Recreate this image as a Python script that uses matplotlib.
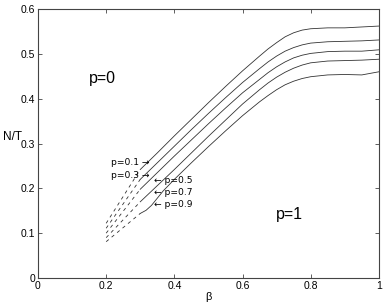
import matplotlib
matplotlib.use('Agg')
import matplotlib.pyplot as plt

plt.rcParams['font.family'] = ['Liberation Sans', 'DejaVu Sans']

# solid part, beta from 0.3 to 1
beta = [0.3, 0.35, 0.4, 0.45, 0.5, 0.55, 0.6, 0.65, 0.675, 0.7, 0.725, 0.75, 0.775, 0.8, 0.85, 0.9, 0.95, 1.0]
p01 = [0.242, 0.279, 0.317, 0.354, 0.391, 0.427, 0.462, 0.495, 0.511, 0.525, 0.538, 0.547, 0.553, 0.556, 0.558, 0.558, 0.560, 0.562]
p03 = [0.220, 0.257, 0.294, 0.331, 0.367, 0.402, 0.436, 0.467, 0.482, 0.495, 0.506, 0.514, 0.520, 0.524, 0.527, 0.528, 0.529, 0.531]
p05 = [0.198, 0.235, 0.272, 0.308, 0.344, 0.379, 0.413, 0.443, 0.458, 0.471, 0.482, 0.491, 0.497, 0.501, 0.505, 0.506, 0.506, 0.509]
p07 = [0.170, 0.206, 0.242, 0.279, 0.316, 0.352, 0.388, 0.420, 0.435, 0.448, 0.459, 0.468, 0.475, 0.480, 0.484, 0.485, 0.486, 0.488]
beta9 = [0.3, 0.317, 0.333, 0.35, 0.367, 0.4, 0.45, 0.5, 0.55, 0.6, 0.65, 0.675, 0.7, 0.725, 0.75, 0.775, 0.8, 0.85, 0.9, 0.95, 1.0]
p09 = [0.144, 0.151, 0.162, 0.178, 0.194, 0.220, 0.257, 0.293, 0.328, 0.362, 0.393, 0.407, 0.420, 0.431, 0.439, 0.445, 0.449, 0.453, 0.454, 0.453, 0.460]

# dashed part, beta from 0.2 to 0.3
beta_d = [0.2, 0.3]
d01 = [0.122, 0.242]
d03 = [0.111, 0.220]
d05 = [0.100, 0.198]
d07 = [0.090, 0.170]
d09 = [0.081, 0.144]

fig = plt.figure(figsize=(3.85, 3.06), dpi=100)
ax = fig.add_axes([0.0987, 0.0915, 0.8853, 0.879])

lc = '#333333'
for ys in [p01, p03, p05, p07]:
    ax.plot(beta, ys, color=lc, lw=0.6)
ax.plot(beta9, p09, color=lc, lw=0.6)
for ys in [d01, d03, d05, d07, d09]:
    ax.plot(beta_d, ys, color=lc, lw=0.6, dashes=(4, 4.5))

ax.text(0.19, 0.446, 'p=0', fontsize=11.5, ha='center', va='center')
ax.text(0.739, 0.141, 'p=1', fontsize=11.5, ha='center', va='center')

fs = 6.6
lab = dict(fontsize=fs, ha='left', va='center', family=['DejaVu Sans'])
ax.text(0.214, 0.257, 'p=0.1 \u2192', **lab)
ax.text(0.214, 0.228, 'p=0.3 \u2192', **lab)
ax.text(0.341, 0.217, '\u2190 p=0.5', **lab)
ax.text(0.341, 0.190, '\u2190 p=0.7', **lab)
ax.text(0.341, 0.163, '\u2190 p=0.9', **lab)

ax.set_xlim(0, 1)
ax.set_ylim(0, 0.6)
ax.set_xticks([0, 0.2, 0.4, 0.6, 0.8, 1])
ax.set_xticklabels(['0', '0.2', '0.4', '0.6', '0.8', '1'])
ax.set_yticks([0, 0.1, 0.2, 0.3, 0.4, 0.5, 0.6])
ax.set_yticklabels(['0', '0.1', '0.2', '0.3', '0.4', '0.5', '0.6'])
ax.tick_params(direction='in', top=True, right=True, labelsize=7.5,
               length=3, width=0.6, color='#444444', pad=2)
for s in ax.spines.values():
    s.set_linewidth(0.8)
    s.set_color('#444444')

ax.set_xlabel('\u03b2', fontsize=8, labelpad=1)
ax.text(-0.076, 0.524, 'N/T', fontsize=8.5, ha='center', va='center',
        transform=ax.transAxes)

fig.savefig('out.png', dpi=100)
